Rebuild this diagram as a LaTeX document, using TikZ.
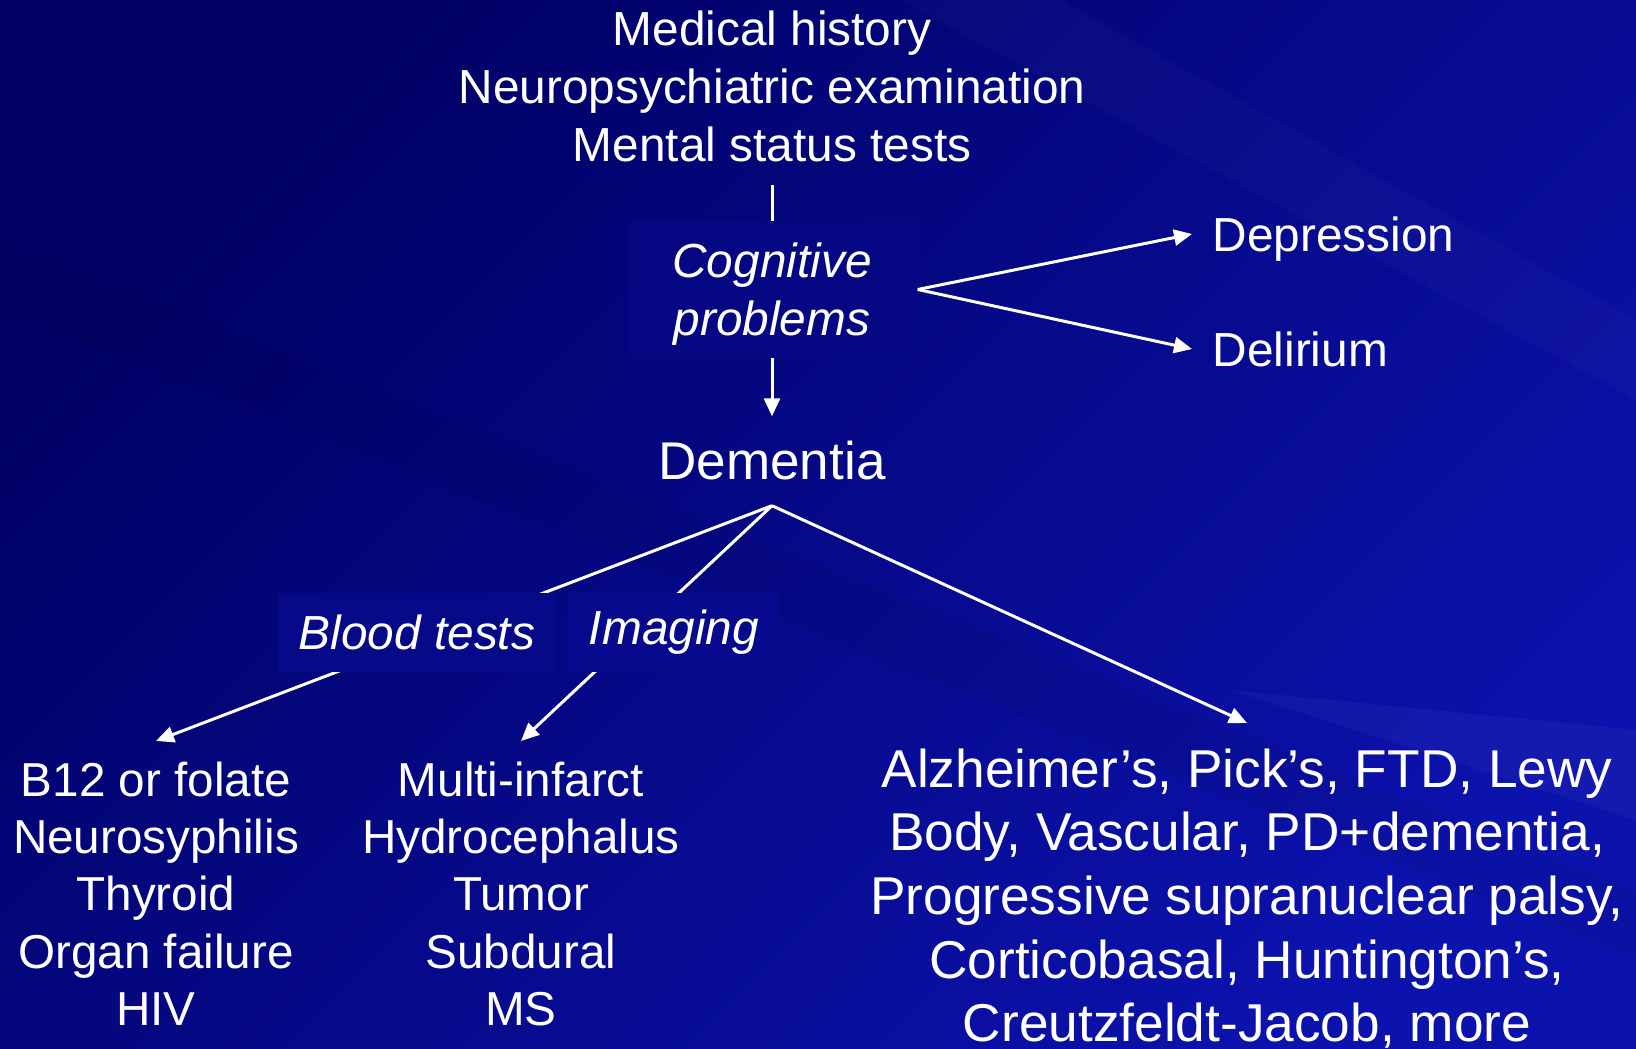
\documentclass[tikz,border=0pt]{standalone}
\usepackage{fontspec}
\setmainfont{Liberation Sans}
\usetikzlibrary{positioning, arrows.meta}
\definecolor{slidedark}{RGB}{0,0,100}
\definecolor{slidelight}{RGB}{12,18,172}
\colorlet{slidebox}{slidelight!42!slidedark}
\pgfdeclarelayer{bg}
\pgfdeclarelayer{edges}
\pgfsetlayers{bg,edges,main}

\begin{document}
\begin{tikzpicture}[
    txt/.style={text=white, align=center, inner sep=0pt, font=\fontsize{13.6}{16.5}\selectfont},
    italbox/.style={txt, font=\fontsize{13.6}{16.5}\selectfont\itshape, fill=slidebox},
    col/.style={txt, anchor=north, inner ysep=2mm, font=\fontsize{13.55}{16.3}\selectfont},
    arr/.style={-{Triangle[length=0.18cm, width=0.16cm]}, white, line width=0.85pt},
    link/.style={white, line width=0.85pt},
]
\useasboundingbox (0,0) rectangle (16.36,-10.49);

% ===== Slide background =====
\begin{pgfonlayer}{bg}
  \shade[top color=slidedark, bottom color=slidelight, shading angle=45] (0,0) rectangle (16.36,-10.49);
  \fill[white, opacity=0.025] (9.0,0) -- (10.6,0) -- (16.36,-3.2) -- (16.36,-4.0) -- cycle;
  \fill[black, opacity=0.05] (0,-2.4) -- (0,-3.1) -- (16.36,-9.6) -- (16.36,-8.9) -- cycle;
  \fill[white, opacity=0.035] (12.3,-6.9) -- (16.36,-7.3) -- (16.36,-8.2) -- cycle;
\end{pgfonlayer}

% ===== Top: work-up =====
\node[txt] (hist) at (7.72,-0.86)
  {Medical history\\Neuropsychiatric examination\\Mental status tests};
\node[italbox, text depth=0pt, minimum width=2.9cm, minimum height=1.35cm] (cog) at (7.72,-2.895)
  {Cognitive\\problems};
\node[txt, font=\fontsize{15.1}{18}\selectfont, minimum height=0.88cm] (dem) at (7.72,-4.61)
  {Dementia};

% ===== Differential =====
\node[txt, anchor=west, inner xsep=2mm, text depth=0pt] (dep) at (11.92,-2.34) {Depression};
\node[txt, anchor=west, inner xsep=2mm] (del) at (11.92,-3.49) {Delirium};

% ===== Tests =====
\node[italbox, fill=slidelight!50!slidedark, minimum width=2.78cm, minimum height=0.79cm] (blood) at (4.17,-6.325) {Blood tests};
\node[italbox, fill=slidelight!55!slidedark, minimum width=2.10cm, minimum height=0.79cm] (img) at (6.74,-6.325) {Imaging};

% ===== Causes =====
\node[col] (metab) at (1.56,-7.41)
  {B12 or folate\\Neurosyphilis\\Thyroid\\Organ failure\\HIV};
\node[col] (struct) at (5.21,-7.41)
  {Multi-infarct\\Hydrocephalus\\Tumor\\Subdural\\MS};
\node[col, inner ysep=2.5mm, font=\fontsize{15.15}{18.1}\selectfont] (degen) at (12.47,-7.23)
  {Alzheimer’s, Pick’s, FTD, Lewy\\Body, Vascular, PD+dementia,\\Progressive supranuclear palsy,\\Corticobasal, Huntington’s,\\Creutzfeldt-Jacob, more};

% ===== Connectors =====
\begin{pgfonlayer}{edges}
  \draw[link, shorten <=2.3mm] (hist.south) -- (cog.north);
  \draw[arr] (cog.south) -- (dem.north);
  \draw[arr] (cog.east) -- (dep.west);
  \draw[arr] (cog.east) -- (del.west);
  \draw[arr] (dem.south) -- (metab.north);
  \draw[arr] (dem.south) -- (struct.north);
  \draw[arr] (dem.south) -- (degen.north);
\end{pgfonlayer}

\end{tikzpicture}
\end{document}
